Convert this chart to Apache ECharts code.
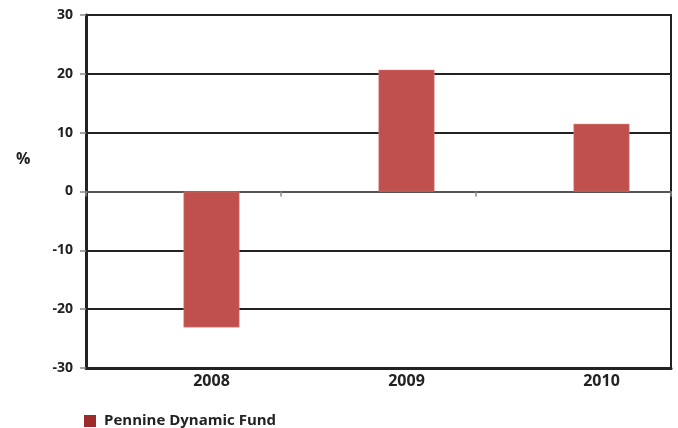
<!DOCTYPE html>
<html><head><meta charset="utf-8">
<script src="https://cdn.jsdelivr.net/npm/echarts@6/dist/echarts.min.js"></script>
<style>html,body{margin:0;padding:0;background:#fff}#c{width:678px;height:428px}</style>
</head><body><div id="c"></div>
<script>
const categories = ['2008', '2009', '2010'];
const fundValues = [-23.1, 20.7, 11.5];
const yTicks = { min: -30, max: 30, interval: 10 };
const seriesName = 'Pennine Dynamic Fund';

const chart = echarts.init(document.getElementById('c'), null, { renderer: 'canvas' });
const font = '"Open Sans", "DejaVu Sans", sans-serif';
chart.setOption({
  animation: false,
  grid: { left: 86, right: 7, top: 15, bottom: 60, show: true, borderColor: '#222', borderWidth: 2 },
  graphic: [{ type: 'text', left: 16, top: 151, style: { text: '%', font: 'bold 16px ' + font, fill: '#222' } }],
  legend: {
    left: 79, top: 408, itemWidth: 12, itemHeight: 12, icon: 'rect',
    data: [{ name: seriesName, itemStyle: { color: '#9e2b2b', borderWidth: 0 } }],
    textStyle: { fontFamily: font, fontWeight: 'bold', fontSize: 15, lineHeight: 16, color: '#222', padding: [0, 0, 0, 3] }
  },
  xAxis: [{
    type: 'category', data: categories, position: 'bottom',
    axisLine: { onZero: false, lineStyle: { color: '#222', width: 3 } },
    axisTick: { show: false },
    axisLabel: { fontFamily: font, fontWeight: 'bold', fontSize: 16, color: '#222', margin: 5, padding: [0, 0, 0, 56] }
  }, {
    type: 'category', data: categories, position: 'bottom',
    axisLine: { onZero: true, lineStyle: { color: '#555', width: 2 } },
    axisTick: { show: true, length: 5, lineStyle: { color: '#888', width: 1.5 } },
    axisLabel: { show: false }
  }],
  yAxis: {
    type: 'value', min: yTicks.min, max: yTicks.max, interval: yTicks.interval,
    axisLine: { show: true, lineStyle: { color: '#222', width: 3 } },
    axisTick: { show: true, length: 6, lineStyle: { color: '#888', width: 1.5 } },
    splitLine: { lineStyle: { color: '#222', width: 2 } },
    axisLabel: { fontFamily: font, fontWeight: 'bold', fontSize: 14, color: '#222', margin: 13 }
  },
  series: [{
    name: 'spacer', type: 'bar', barWidth: 56, barGap: '0%', data: categories.map(() => '-'), silent: true
  }, {
    name: seriesName, type: 'bar', barWidth: 56, barGap: '0%', data: fundValues,
    itemStyle: { color: '#c0504d', borderColor: '#d98a88', borderWidth: 0.5 }
  }]
});
</script></body></html>
